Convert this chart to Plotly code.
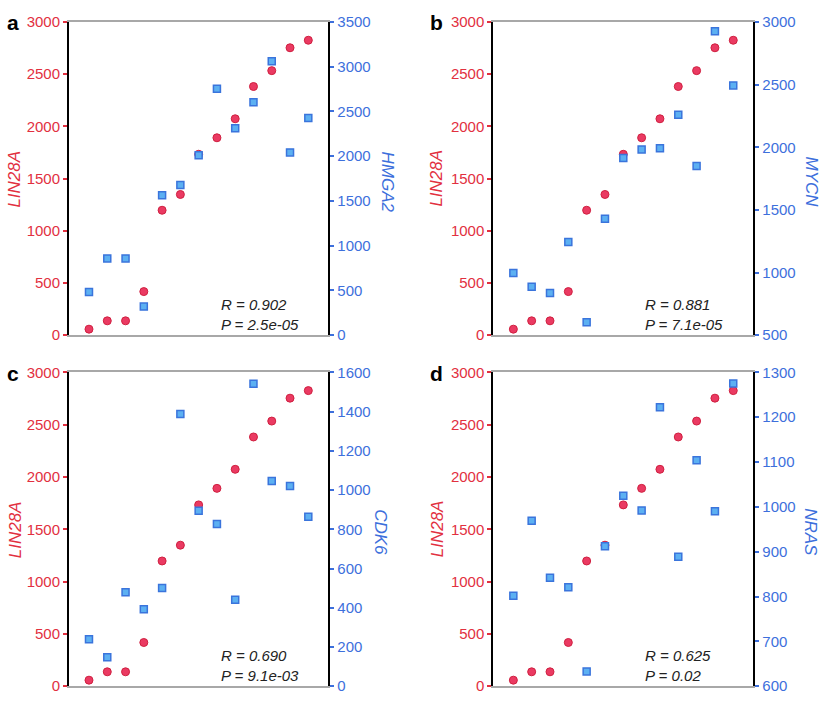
import plotly.graph_objects as go

# ---- data ----
SAMPLES = [1, 2, 3, 4, 5, 6, 7, 8, 9, 10, 11, 12, 13]
LIN28A = [58, 138, 138, 418, 1197, 1348, 1733, 1891, 2073, 2382, 2534, 2753, 2825]
HMGA2 = [483, 858, 858, 320, 1563, 1679, 2010, 2755, 2312, 2603, 3061, 2043, 2428]
MYCN = [996, 887, 837, 1245, 604, 1429, 1915, 1982, 1993, 2260, 1850, 2927, 2494]
CDK6 = [239, 148, 479, 393, 501, 1388, 895, 827, 441, 1542, 1046, 1020, 864]
NRAS = [802, 969, 842, 821, 633, 912, 1025, 992, 1222, 889, 1104, 990, 1275]

PANEL_LETTERS = ["a", "b", "c", "d"]
GENE_NAMES = ["HMGA2", "MYCN", "CDK6", "NRAS"]
GENE_VALUES = [HMGA2, MYCN, CDK6, NRAS]
RIGHT_RANGES = [[0, 3500], [500, 3000], [0, 1600], [600, 1300]]
RIGHT_DTICKS = [500, 500, 200, 100]
R_VALUES = ["0.902", "0.881", "0.690", "0.625"]
P_VALUES = ["2.5e-05", "7.1e-05", "9.1e-03", "0.02"]
LEFT_RANGE = [0, 3000]
LEFT_DTICK = 500

# ---- style ----
W, H = 823, 704
RED = "#e2303f"
RED_FILL = "#ea3a62"
RED_LINE = "#d02040"
BLUE = "#3d6fdc"
BLUE_FILL = "#5cb0f2"
BLUE_LINE = "#3a74dc"
FONT = "Liberation Sans"


def px(x):
    return x / W


def py(y):
    return 1 - y / H


# panel pixel boxes: (left, right, top, bottom)
boxes = [(69, 328.3, 13.3, 334.3), (493.3, 753.3, 13.3, 334.3),
         (69, 328.3, 372.3, 694), (493.3, 753.3, 372.3, 694)]
right_title_x = [387, 811, 381, 811]
left_title_x = [15, 437, 15, 437]

fig = go.Figure()
layout = dict(
    width=W, height=H, margin=dict(l=0, r=0, t=0, b=0),
    paper_bgcolor="white", plot_bgcolor="white", showlegend=False,
    font=dict(family=FONT, size=15), hovermode=False,
)
annotations = []

for i in range(4):
    L, R, T, B = boxes[i]
    xd = [px(L), px(R)]
    yd = [py(B), py(T)]
    xn = i + 1
    yl = 2 * i + 1
    yr = 2 * i + 2
    xa = "x" if xn == 1 else f"x{xn}"
    yla = "y" if yl == 1 else f"y{yl}"
    yra = f"y{yr}"
    xkey = "xaxis" if xn == 1 else f"xaxis{xn}"
    ylkey = "yaxis" if yl == 1 else f"yaxis{yl}"
    yrkey = f"yaxis{yr}"

    layout[xkey] = dict(domain=xd, anchor=yla, range=[-0.094, 14.094],
                        showgrid=False, zeroline=False, showticklabels=False,
                        ticks="", showline=True, linecolor="#a8a8a8",
                        linewidth=2, mirror=True)
    layout[ylkey] = dict(domain=yd, anchor=xa, range=LEFT_RANGE, dtick=LEFT_DTICK,
                         tick0=0, showgrid=False, zeroline=False,
                         showline=True, linecolor="black", linewidth=2,
                         ticks="outside", ticklen=4, tickwidth=1.5, tickcolor=RED,
                         tickfont=dict(color=RED, size=15, family=FONT))
    layout[yrkey] = dict(domain=yd, anchor=xa, overlaying=yla, side="right",
                         range=RIGHT_RANGES[i], dtick=RIGHT_DTICKS[i],
                         tick0=RIGHT_RANGES[i][0], showgrid=False, zeroline=False,
                         showline=True, linecolor="black", linewidth=2,
                         ticks="outside", ticklen=4, tickwidth=1.5, tickcolor=BLUE,
                         tickfont=dict(color=BLUE, size=15, family=FONT))

    fig.add_trace(go.Scatter(
        x=SAMPLES, y=LIN28A, mode="markers", xaxis=xa, yaxis=yla,
        marker=dict(symbol="circle", size=8, color=RED_FILL,
                    line=dict(color=RED_LINE, width=1)),
        cliponaxis=False))
    fig.add_trace(go.Scatter(
        x=SAMPLES, y=GENE_VALUES[i], mode="markers", xaxis=xa, yaxis=yra,
        marker=dict(symbol="square", size=7, color=BLUE_FILL,
                    line=dict(color=BLUE_LINE, width=1.5)),
        cliponaxis=False))

    ymid = (T + B) / 2
    annotations.append(dict(
        x=px(left_title_x[i]), y=py(ymid), xref="paper", yref="paper",
        text="<i>LIN28A</i>", textangle=-90, showarrow=False,
        font=dict(color=RED, size=17, family=FONT), borderpad=0,
        xanchor="center", yanchor="middle"))
    annotations.append(dict(
        x=px(right_title_x[i]), y=py(ymid + 3), xref="paper", yref="paper",
        text=f"<i>{GENE_NAMES[i]}</i>", textangle=90, showarrow=False,
        font=dict(color=BLUE, size=17, family=FONT), borderpad=0,
        xanchor="center", yanchor="middle"))
    annotations.append(dict(
        x=px(L - 48), y=py(T + 1), xref="paper", yref="paper",
        text=f"<b>{PANEL_LETTERS[i]}</b>", showarrow=False,
        font=dict(color="black", size=21, family=FONT),
        xanchor="right", yanchor="middle"))
    annotations.append(dict(
        x=px(L + 150), y=py(B - 21), xref="paper", yref="paper",
        text=f"<i>R = {R_VALUES[i]}</i><br><i>P = {P_VALUES[i]}</i>",
        showarrow=False, align="left",
        font=dict(color="#222222", size=15, family=FONT),
        xanchor="left", yanchor="middle"))

layout["annotations"] = annotations
fig.update_layout(**layout)
# remove the default 8px page margin so the figure fills the window exactly
fig.write_html("out.html", config={"displayModeBar": False},
               post_script="document.body.style.margin='0';")
